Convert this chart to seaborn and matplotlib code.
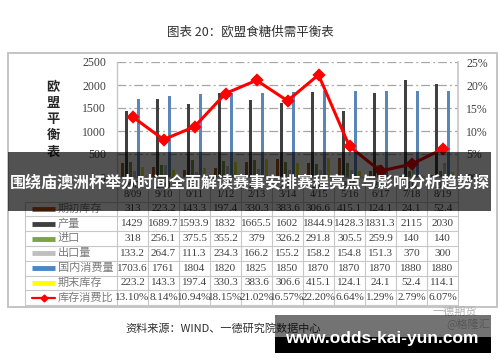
import numpy as np
import pandas as pd
import seaborn as sns
import matplotlib.pyplot as plt
from matplotlib.patches import Rectangle

# ---- data (EU sugar balance sheet, 10k t) ----
years = ["2008/09", "2009/10", "2010/11", "2011/12", "2012/13", "2013/14",
         "2014/15", "2015/16", "2016/17", "2017/18", "2018/19"]
opening = [313, 223.2, 143.3, 197.4, 330.3, 383.6, 306.6, 415.1, 124.1, 24.1, 52.4]
production = [1429, 1689.7, 1593.9, 1832, 1665.5, 1602, 1844.9, 1428.3, 1831.3, 2115, 2030]
imports = [318, 256.1, 375.5, 355.2, 379, 326.2, 291.8, 305.5, 259.9, 140, 140]
exports = [133.2, 264.7, 111.3, 234.3, 166.2, 155.2, 158.2, 154.8, 151.3, 370, 300]
consumption = [1703.6, 1761, 1804, 1820, 1825, 1850, 1870, 1870, 1870, 1880, 1880]
closing = [223.2, 143.3, 197.4, 330.3, 383.6, 306.6, 415.1, 124.1, 24.1, 52.4, 114.1]
stock_ratio = [13.10, 8.14, 10.94, 18.15, 21.02, 16.57, 22.20, 6.64, 1.29, 2.79, 6.07]

series_names = ["期初库存", "产量", "进口", "出口量", "国内消费量", "期末库存"]
ratio_name = "库存消费比"
series_colors = ["#C0550F", "#404040", "#7BA443", "#BFBFBF", "#4A86C8", "#FFFF00"]
ratio_color = "#FF0000"

title = "图表 20：欧盟食糖供需平衡表"
ylabel = "欧盟平衡表"
source = "资料来源：WIND、一德研究院数据中心"
banner = "围绕庙澳洲杯举办时间全面解读赛事安排赛程亮点与影响分析趋势探"
site = "www.odds-kai-yun.com"

series_values = [opening, production, imports, exports, consumption, closing]
long_df = pd.DataFrame({
    "年份": years * len(series_names),
    "项目": np.repeat(series_names, len(years)),
    "数量": np.concatenate(series_values),
})
ratio_df = pd.DataFrame({"年份": years, "比例": stock_ratio})

sns.set_theme(style="white")
plt.rcParams["font.family"] = ["Noto Sans CJK SC", "DejaVu Sans"]

W, H = 500, 362
fig = plt.figure(figsize=(5, 3.62), dpi=100)
fig.patch.set_facecolor("white")

# plot area in pixels
pl, pr, pt, pb = 117, 458, 62, 177
ax = fig.add_axes([pl / W, 1 - pb / H, (pr - pl) / W, (pb - pt) / H])

sns.barplot(data=long_df, x="年份", y="数量", hue="项目", order=years,
            hue_order=series_names, palette=series_colors, width=0.78, gap=0.15,
            linewidth=0, errorbar=None, legend=False, ax=ax)
ax.set_xlim(-0.5, len(years) - 0.5)
ax.set_ylim(0, 2500)
ax.set_yticks(range(0, 2501, 500))
ax.set_yticklabels([str(v) for v in range(0, 2501, 500)],
                   fontfamily="Liberation Serif", fontsize=8.5, color="#404040")
ax.yaxis.grid(True, linestyle=(0, (7, 2.5, 1.5, 2.5)), color="#A6A6A6", lw=0.9)
ax.set_axisbelow(True)
ax.tick_params(axis="y", length=0, pad=8)
ax.tick_params(axis="x", length=0, labelbottom=False)
ax.set_xlabel("")
ax.set_ylabel("")
for s in ["top", "right"]:
    ax.spines[s].set_visible(False)
for s in ["left", "bottom"]:
    ax.spines[s].set_color("#C8C8C8")
    ax.spines[s].set_linewidth(1)

ax2 = ax.twinx()
sns.pointplot(data=ratio_df, x="年份", y="比例", order=years, color=ratio_color,
              markers="D", markersize=5, linewidth=2.2, errorbar=None, ax=ax2)
ax2.set_xlim(-0.5, len(years) - 0.5)
ax2.set_ylim(0, 25)
ax2.set_yticks(range(0, 26, 5))
ax2.set_yticklabels([f"{v}%" for v in range(0, 26, 5)],
                    fontfamily="Liberation Serif", fontsize=8.5, color="#404040")
ax2.tick_params(axis="y", length=0, pad=6)
ax2.tick_params(axis="x", length=0, labelbottom=False)
ax2.set_xlabel("")
ax2.set_ylabel("")
for s in ["top", "left", "bottom"]:
    ax2.spines[s].set_visible(False)
ax2.spines["right"].set_color("#C8C8C8")

# ---- overlay in pixel coords: frame, table, texts ----
ov = fig.add_axes([0, 0, 1, 1], zorder=5)
ov.set_xlim(0, W)
ov.set_ylim(H, 0)
ov.axis("off")
ov.patch.set_alpha(0)

ov.text(250, 32, title, ha="center", va="center", fontsize=9, color="#303030")
ov.add_patch(Rectangle((8, 53), 489, 254, fill=False, ec="#BFBFBF", lw=1.3))
ov.text(53, 119, "\n".join(ylabel), ha="center", va="center", fontsize=9.5,
        fontweight="bold", color="#262626", linespacing=1.2)

# data table under the chart
n = len(years)
cw = (pr - pl) / n
row_top = 201.5
rh = 14.8
tab_left = 25
line_c = "#C8C8C8"
for k in range(n + 1):
    ov.plot([pl + k * cw] * 2, [pb, row_top + 7 * rh], color=line_c, lw=0.8)
ov.plot([tab_left] * 2, [row_top, row_top + 7 * rh], color=line_c, lw=0.8)
for k in range(8):
    ov.plot([tab_left, pr], [row_top + k * rh] * 2, color=line_c, lw=0.8)

for i, yr in enumerate(years):
    ov.text(pl + cw * (i + 0.5), 190, yr[:3] + "\n" + yr[3:], ha="center", va="center",
            fontsize=7.5, fontfamily="Liberation Serif", color="#404040", linespacing=1.0)

table_rows = [(nm, vals, col, [f"{v:g}" for v in vals])
              for nm, vals, col in zip(series_names, series_values, series_colors)]
table_rows.append((ratio_name, stock_ratio, ratio_color, [f"{v:.2f}%" for v in stock_ratio]))

for r, (nm, vals, col, txts) in enumerate(table_rows):
    yc = row_top + rh * (r + 0.5)
    if nm == ratio_name:
        ov.plot([32, 55], [yc, yc], color=col, lw=1.6)
        ov.plot([43.5], [yc], marker="D", color=col, ms=3.5)
    else:
        ov.plot([32, 55], [yc, yc], color=col, lw=3.5, solid_capstyle="butt")
    ov.text(58, yc, nm, ha="left", va="center", fontsize=8, color="#7A7A7A")
    for i, t in enumerate(txts):
        ov.text(pl + cw * (i + 0.5), yc, t, ha="center", va="center", fontsize=8,
                fontfamily="Liberation Serif", color="#404040")

ov.text(125, 328, source, ha="left", va="center", fontsize=8, color="#303030")
ov.text(455, 312, "一德期货", ha="center", va="center", fontsize=8, color="#B0B0B0")
ov.text(468, 324, "@格隆汇", ha="center", va="center", fontsize=8, color="#C0C0C0")

# banner overlay
ov.add_patch(Rectangle((8, 152), 483, 59, fc="black", alpha=0.68, lw=0, zorder=10))
ov.text(250, 183, banner, ha="center", va="center", fontsize=11.5, fontweight="bold",
        color="white", zorder=11)

# site watermark
ov.add_patch(Rectangle((275, 315), 216, 22, fc="black", alpha=0.55, lw=0, zorder=10))
ov.add_patch(Rectangle((275, 337), 216, 16, fc="black", lw=0, zorder=10))
ov.text(382, 339, site, ha="center", va="center", fontsize=12.5, fontweight="bold",
        fontfamily="Liberation Sans", color="white", zorder=11)

fig.savefig("out.png", dpi=100)
